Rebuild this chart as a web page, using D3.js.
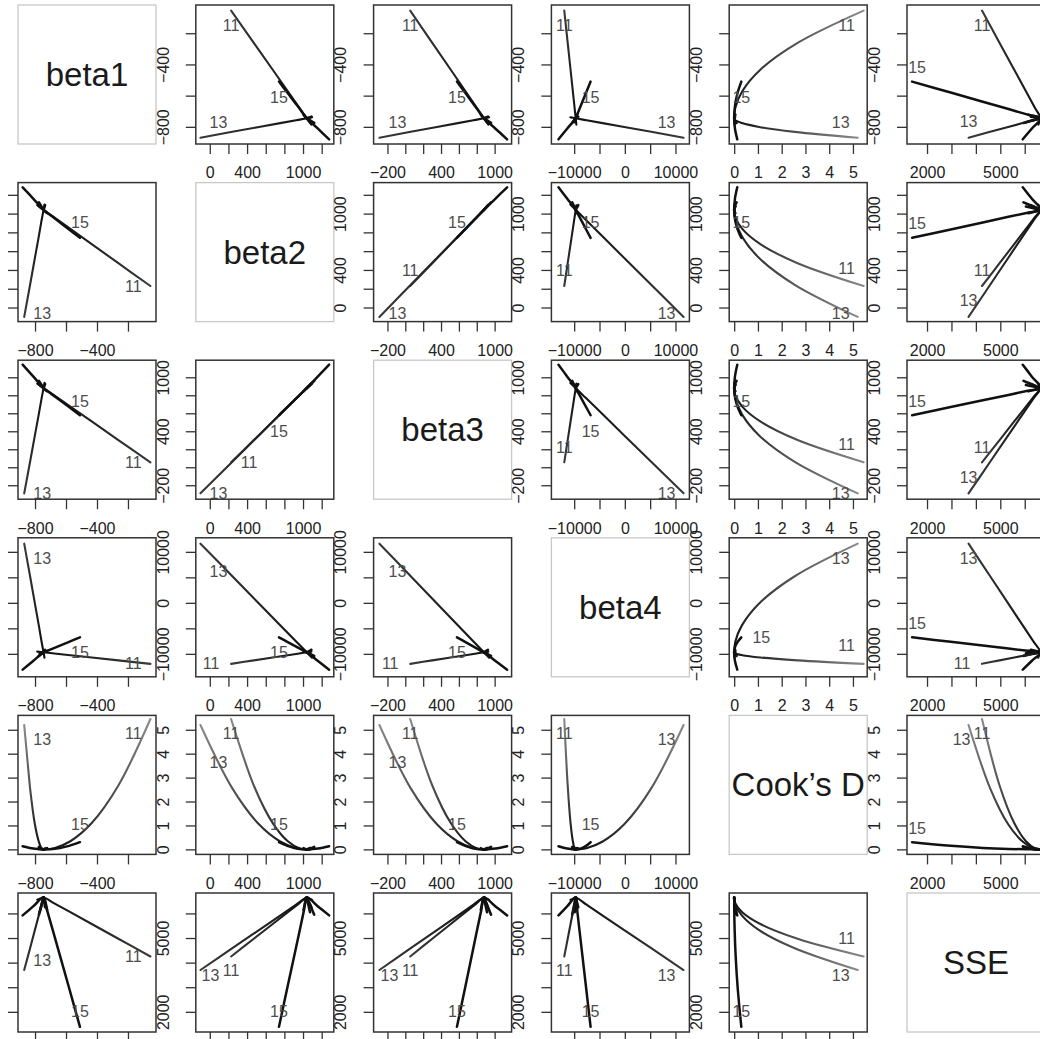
<!DOCTYPE html>
<html><head><meta charset="utf-8">
<script src="https://cdn.jsdelivr.net/npm/d3@7"></script>
<style>
body{margin:0;background:#fff}
svg{display:block}
text{font-family:"Liberation Sans",Arial,Helvetica,sans-serif}
</style>
</head><body>
<svg id="c" width="1040" height="1039"></svg>
<script>
// ---------- data ----------
const varNames = ["beta1","beta2","beta3","beta4","Cook\u2019s D","SSE"];

const domBeta1 = [-910, -19];
const domBeta2 = [-150, 1330];
const domBeta3 = [-355, 1190];
const domBeta4 = [-14500, 12750];
const domD     = [-0.21, 5.6];
const domSSE   = [1180, 6830];

const ticksBeta1 = [-800,-600,-400,-200];   const labelsBeta1 = [-800,-400];
const ticksBeta2 = [0,200,400,600,800,1000,1200]; const labelsBeta2 = [0,400,1000];
const ticksBeta3 = [-200,0,200,400,600,800,1000]; const labelsBeta3 = [-200,400,1000];
const ticksBeta4 = [-10000,-5000,0,5000,10000]; const labelsBeta4 = [-10000,0,10000];
const ticksD     = [0,1,2,3,4,5];            const labelsD = [0,1,2,3,4,5];
const ticksSSE   = [2000,3000,4000,5000,6000]; const labelsSSE = [2000,5000];

// trajectories: rows = [beta1, beta2, beta3, beta4, Cook's D, SSE], far side -> full fit -> deletion end
const obs11 = [
  [-786,1089,930,-9564,0.02,6560],
  [-766,1064,905,-9632,0.005,6605],
  [-745,1040,880,-9700,0,6650],
  [-676,959,798,-9926,0.05,6410],
  [-572,837,674,-10265,0.34,6050],
  [-434,675,509,-10717,1.10,5570],
  [-262,472,302,-11282,2.67,4970],
  [-55,229,55,-11960,5.45,4250]
];
const obs13 = [
  [-739,1097,938,-10765,0.013,6550],
  [-742,1068,909,-10232,0.003,6600],
  [-745,1040,880,-9700,0,6650],
  [-758,926,763,-7570,0.05,6355],
  [-776,755,588,-4375,0.33,5912],
  [-801,527,354,-116,1.05,5322],
  [-832,242,61,5210,2.55,4585],
  [-870,-100,-290,11600,5.2,3700]
];
const obs15 = [
  [-880,1280,1140,-13100,0.13,5920],
  [-812,1160,1010,-11400,0.033,6285],
  [-745,1040,880,-9700,0,6650],
  [-722,1010,850,-9406,0.003,6124],
  [-686,966,804,-8965,0.019,5335],
  [-639,906,744,-8377,0.061,4283],
  [-580,831,669,-7642,0.147,2968],
  [-510,742,578,-6760,0.3,1390]
];
const obsM1 = [[-745,1040,880,-9700,0,6650],[-758,1057,897,-9800,0.015,6350],[-770,1075,915,-9900,0.06,6050]];
const obsM2 = [[-745,1040,880,-9700,0,6650],[-734,1022,862,-9575,0.012,6400],[-722,1005,845,-9450,0.05,6150]];
const obsM3 = [[-745,1040,880,-9700,0,6650],[-760,1080,920,-10050,0.025,6300],[-775,1120,960,-10400,0.10,5950]];
const obsM4 = [[-745,1040,880,-9700,0,6650],[-740,1065,902,-9450,0.01,6450],[-735,1090,925,-9200,0.04,6250]];

const labeledObs = [["11", obs11], ["13", obs13], ["15", obs15]];
const minorObs = [obsM1, obsM2, obsM3, obsM4];

// ---------- layout ----------
const domains = [domBeta1, domBeta2, domBeta3, domBeta4, domD, domSSE];
const tickSets = [ticksBeta1, ticksBeta2, ticksBeta3, ticksBeta4, ticksD, ticksSSE];
const labelSets = [labelsBeta1, labelsBeta2, labelsBeta3, labelsBeta4, labelsD, labelsSSE];
const PW = 138, PH = 139;
const colLeft = j => 18 + j * 177.8;
const rowTop = i => 5 + i * 177.6;
const fmt = v => (v < 0 ? "\u2212" + Math.abs(v) : String(v));
const W = 1040, H = 1039;

// label placement next to the deletion end of a trajectory (r, c are 1-based panel row/col)
function labelOffset(id, r, c, ex, L) {
  const rx = (ex - L) / PW;
  let dx = rx < 0.06 ? 18 : rx > 0.92 ? -17 : 0;
  let dy;
  if (id === "11") {
    dy = {1:15, 2:-16, 3:-15, 4:0, 5:15, 6:14}[r];
    if (c === 1 && r !== 5) dy = 0;
    if (c === 5) dy = (r === 1) ? 15 : -18;
    if (r === 4 && dx === 0 && c !== 5) dx = -20;
    if (r === 3 && c === 2) { dx = 18; dy = 0; }
  } else if (id === "13") {
    if (dx !== 0) dy = {1:-15, 2:-3, 3:0, 4:15, 5:15, 6:5}[r];
    else dy = (r >= 4) ? 15 : -16;
    if ((r === 4 || r === 5) && (c === 2 || c === 3)) dy = (r === 4) ? 28 : 38;
    if (r === 6 && c === 1) dy = -10;
    if (r === 6 && (c === 2 || c === 3)) dx = 10;
    if (r === 5 && c === 6) dx = -7;
  } else {
    dx = 0;
    dy = {1:16, 2:-15, 3:-14, 4:15, 5:-18, 6:-15}[r];
    if (c === 6) { dx = 5; dy = -14; }
    if (r === 3 && (c === 2 || c === 4)) dy = 16;
    if (r === 4 && c === 5) { dx = 20; dy = 0; }
  }
  return [dx, dy];
}

const svg = d3.select("#c");
const defs = svg.append("defs");
const DI = 4; // index of Cook's D

for (let i = 0; i < 6; i++) {
  for (let j = 0; j < 6; j++) {
    const L = colLeft(j), T = rowTop(i);
    const g = svg.append("g");
    if (i === j) {
      g.append("rect").attr("x", L).attr("y", T).attr("width", PW).attr("height", PH)
        .attr("fill", "none").attr("stroke", "#c8c8c8").attr("stroke-width", 1.3);
      g.append("text").attr("x", L + PW / 2).attr("y", T + PH / 2)
        .attr("text-anchor", "middle").attr("dominant-baseline", "central")
        .attr("font-size", 33).attr("fill", "#1a1a1a").text(varNames[i]);
      continue;
    }
    const xs = d3.scaleLinear().domain(domains[j]).range([L, L + PW]);
    const ys = d3.scaleLinear().domain(domains[i]).range([T + PH, T]);
    const cid = `clip${i}_${j}`;
    defs.append("clipPath").attr("id", cid).append("rect")
      .attr("x", L).attr("y", T).attr("width", PW).attr("height", PH);
    const cg = g.append("g").attr("clip-path", `url(#${cid})`);
    const line = d3.line().x(d => xs(d[j])).y(d => ys(d[i])).curve(d3.curveCatmullRom.alpha(0.5));
    const isD = (i === DI || j === DI);

    minorObs.forEach(o => {
      cg.append("path").attr("d", line(o)).attr("fill", "none")
        .attr("stroke", "#111").attr("stroke-width", 2.6).attr("stroke-linecap", "round");
    });
    labeledObs.forEach(([id, o], k) => {
      const p0 = o[2], pe = o[o.length - 1];
      let stroke = "#111";
      if (id !== "15") {
        const gid = `gr${i}_${j}_${k}`;
        const gr = defs.append("linearGradient").attr("id", gid).attr("gradientUnits", "userSpaceOnUse")
          .attr("x1", xs(p0[j])).attr("y1", ys(p0[i])).attr("x2", xs(pe[j])).attr("y2", ys(pe[i]));
        gr.append("stop").attr("offset", 0).attr("stop-color", "#111");
        gr.append("stop").attr("offset", 1).attr("stop-color", isD ? "#8a8a8a" : "#3a3a3a");
        stroke = `url(#${gid})`;
      }
      cg.append("path").attr("d", line(o)).attr("fill", "none")
        .attr("stroke", stroke).attr("stroke-width", id === "15" ? 2.5 : 2.1)
        .attr("stroke-linecap", "round");
    });
    // curve labels
    labeledObs.forEach(([id, o]) => {
      const pe = o[o.length - 1];
      const ex = xs(pe[j]), ey = ys(pe[i]);
      const [dx, dy] = labelOffset(id, i + 1, j + 1, ex, L);
      g.append("text").attr("x", ex + dx).attr("y", ey + dy)
        .attr("text-anchor", "middle").attr("dominant-baseline", "central")
        .attr("font-size", 16).attr("fill", "#4d4d4d").text(id);
    });
    // frame
    g.append("rect").attr("x", L).attr("y", T).attr("width", PW).attr("height", PH)
      .attr("fill", "none").attr("stroke", "#333").attr("stroke-width", 1.5);
    // bottom axis (labels below the last row fall outside the picture)
    const showX = (T + PH + 40 < H);
    const ax = g.append("g").attr("transform", `translate(0,${T + PH})`)
      .call(d3.axisBottom(xs).tickValues(tickSets[j]).tickSize(10).tickPadding(13)
        .tickFormat(v => (showX && labelSets[j].includes(v)) ? fmt(v) : ""));
    ax.select(".domain").remove();
    ax.selectAll(".tick line").attr("stroke", "#333").attr("stroke-width", 1.3);
    ax.selectAll(".tick text").attr("font-size", 16).attr("fill", "#222")
      .attr("font-family", '"Liberation Sans",Arial,sans-serif');
    ax.selectAll(".tick text").filter(function(){ return this.textContent === ""; }).remove();
    // left axis (labels left of the first column fall outside the picture)
    const showY = (L - 45 > 0);
    const ay = g.append("g").attr("transform", `translate(${L},0)`)
      .call(d3.axisLeft(ys).tickValues(tickSets[i]).tickSize(10)
        .tickFormat(v => (showY && labelSets[i].includes(v)) ? fmt(v) : ""));
    ay.select(".domain").remove();
    ay.selectAll(".tick line").attr("stroke", "#333").attr("stroke-width", 1.3);
    ay.selectAll(".tick text").attr("font-size", 16).attr("fill", "#222")
      .attr("font-family", '"Liberation Sans",Arial,sans-serif')
      .attr("text-anchor", "middle").attr("x", 0).attr("y", -33).attr("dy", "0.36em")
      .attr("transform", "rotate(-90)");
    ay.selectAll(".tick text").filter(function(){ return this.textContent === ""; }).remove();
  }
}
</script>
</body></html>
